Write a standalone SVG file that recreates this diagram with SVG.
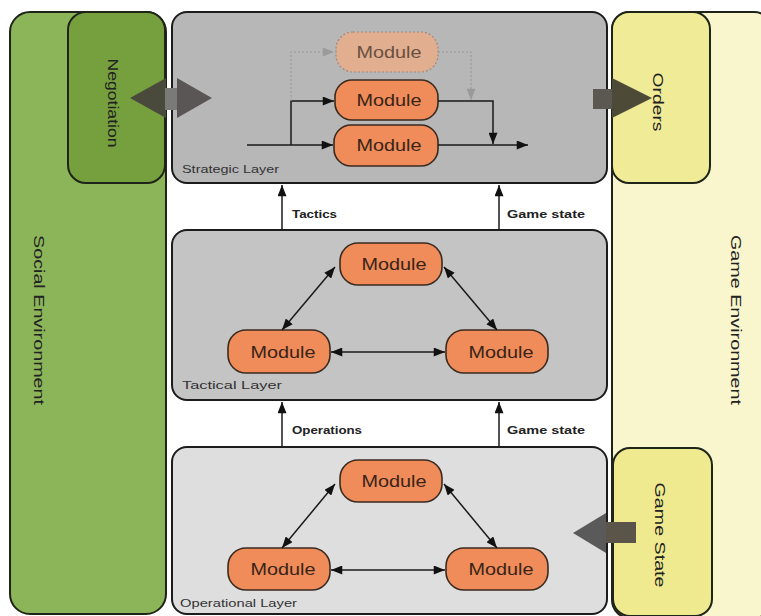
<svg xmlns="http://www.w3.org/2000/svg" width="761" height="616" viewBox="0 0 761 616">
  <style>
    .panel { stroke: #1e2418; stroke-width: 2; }
    .layer { stroke: #1c1c1c; stroke-width: 2; }
    .mod { fill: #ef8c5a; stroke: #3a2a20; stroke-width: 1.6; }
    .ghost { fill: #e2ae90; stroke: #9a8a80; stroke-width: 1.2; stroke-dasharray: 2 2; }
    .mtext { font-family: "Liberation Sans", Arial, sans-serif; font-size: 17px; fill: #3a2418; text-anchor: middle; }
    .gtext { font-family: "Liberation Sans", Arial, sans-serif; font-size: 17px; fill: #6a5040; text-anchor: middle; }
    .vtext { font-family: "Liberation Sans", Arial, sans-serif; font-size: 15px; fill: #222; text-anchor: middle; }
    .ltext { font-family: "Liberation Sans", Arial, sans-serif; font-size: 11px; fill: #333; }
    .ftext { font-family: "Liberation Sans", Arial, sans-serif; font-size: 10px; font-weight: bold; fill: #222; }
    .link { fill: none; stroke: #1a1a1a; stroke-width: 1.5; }
    .dlink { fill: none; stroke: #9a9a9a; stroke-width: 1.2; stroke-dasharray: 2 2; }
  </style>
  <defs>
    <marker id="ah" viewBox="0 0 10 8" refX="10" refY="4" markerWidth="12" markerHeight="9" markerUnits="userSpaceOnUse" orient="auto-start-reverse">
      <path d="M0,0 L10,4 L0,8 z" fill="#111"/>
    </marker>
    <marker id="ahg" viewBox="0 0 10 8" refX="10" refY="4" markerWidth="12" markerHeight="9" markerUnits="userSpaceOnUse" orient="auto">
      <path d="M0,0 L10,4 L0,8 z" fill="#9a9a9a"/>
    </marker>
  </defs>

  <rect width="761" height="616" fill="#ffffff"/>

  <!-- Social environment -->
  <g id="social">
    <rect class="panel" x="10" y="12" width="156" height="602" rx="20" fill="#8cb55a"/>
    <text class="vtext" transform="translate(34,320) rotate(90)" textLength="170" lengthAdjust="spacingAndGlyphs">Social Environment</text>
  </g>
  <g id="negotiation">
    <rect class="panel" x="68" y="12" width="97" height="171" rx="18" fill="#76a03e"/>
    <text class="vtext" transform="translate(108,103) rotate(90)" textLength="89" lengthAdjust="spacingAndGlyphs">Negotiation</text>
  </g>

  <!-- Game environment -->
  <g id="game-env">
    <rect class="panel" x="612" y="12" width="160" height="606" rx="18" fill="#f9f5cd"/>
    <text class="vtext" transform="translate(731,320) rotate(90)" textLength="170" lengthAdjust="spacingAndGlyphs">Game Environment</text>
  </g>
  <g id="orders">
    <rect class="panel" x="612" y="12" width="98" height="171" rx="17" fill="#efeb97"/>
    <text class="vtext" transform="translate(653,102) rotate(90)" textLength="59" lengthAdjust="spacingAndGlyphs">Orders</text>
  </g>
  <g id="game-state">
    <rect class="panel" x="613" y="448" width="99" height="168" rx="17" fill="#efe98f"/>
    <text class="vtext" transform="translate(655,535) rotate(90)" textLength="105" lengthAdjust="spacingAndGlyphs">Game State</text>
  </g>

  <!-- Layers -->
  <g id="strategic-layer">
    <rect class="layer" x="172" y="12" width="435" height="171" rx="15" fill="#b7b7b7"/>
    <text class="ltext" x="182" y="173" textLength="97" lengthAdjust="spacingAndGlyphs">Strategic Layer</text>
  </g>
  <g id="tactical-layer">
    <rect class="layer" x="172" y="230" width="435" height="170" rx="15" fill="#c4c4c4"/>
    <text class="ltext" x="182" y="389" textLength="100" lengthAdjust="spacingAndGlyphs">Tactical Layer</text>
  </g>
  <g id="operational-layer">
    <rect class="layer" x="172" y="447" width="435" height="167" rx="15" fill="#dedede"/>
    <text class="ltext" x="180" y="607" textLength="117" lengthAdjust="spacingAndGlyphs">Operational Layer</text>
  </g>

  <!-- Strategic modules -->
  <g id="s-ghost">
    <rect class="ghost" x="336" y="32" width="102" height="40" rx="17"/>
    <text class="gtext" x="389" y="58" textLength="65" lengthAdjust="spacingAndGlyphs">Module</text>
  </g>
  <g id="s-mod1">
    <rect class="mod" x="335" y="80" width="103" height="40" rx="17"/>
    <text class="mtext" x="389" y="106" textLength="65" lengthAdjust="spacingAndGlyphs">Module</text>
  </g>
  <g id="s-mod2">
    <rect class="mod" x="334" y="125" width="104" height="41" rx="17"/>
    <text class="mtext" x="389" y="151" textLength="65" lengthAdjust="spacingAndGlyphs">Module</text>
  </g>

  <!-- Tactical modules -->
  <g id="t-top">
    <rect class="mod" x="340" y="243" width="102" height="42" rx="18"/>
    <text class="mtext" x="394" y="270" textLength="65" lengthAdjust="spacingAndGlyphs">Module</text>
  </g>
  <g id="t-left">
    <rect class="mod" x="228" y="330" width="102" height="43" rx="18"/>
    <text class="mtext" x="283" y="358" textLength="65" lengthAdjust="spacingAndGlyphs">Module</text>
  </g>
  <g id="t-right">
    <rect class="mod" x="446" y="330" width="102" height="43" rx="18"/>
    <text class="mtext" x="501" y="358" textLength="65" lengthAdjust="spacingAndGlyphs">Module</text>
  </g>

  <!-- Operational modules -->
  <g id="o-top">
    <rect class="mod" x="340" y="460" width="102" height="42" rx="18"/>
    <text class="mtext" x="394" y="487" textLength="65" lengthAdjust="spacingAndGlyphs">Module</text>
  </g>
  <g id="o-left">
    <rect class="mod" x="228" y="548" width="102" height="42" rx="18"/>
    <text class="mtext" x="283" y="575" textLength="65" lengthAdjust="spacingAndGlyphs">Module</text>
  </g>
  <g id="o-right">
    <rect class="mod" x="446" y="548" width="102" height="42" rx="18"/>
    <text class="mtext" x="501" y="575" textLength="65" lengthAdjust="spacingAndGlyphs">Module</text>
  </g>

  <!-- Connectors -->
  <g id="connectors">
    <!-- strategic flow -->
    <path class="link" d="M247,145 L333,145" marker-end="url(#ah)"/>
    <path class="link" d="M291,145 L291,101 L334,101" marker-end="url(#ah)"/>
    <path class="dlink" d="M291,101 L291,52 L334,52" marker-end="url(#ahg)"/>
    <path class="dlink" d="M438,52 L471,52 L471,100" marker-end="url(#ahg)"/>
    <path class="link" d="M438,101 L493,101 L493,144" marker-end="url(#ah)"/>
    <path class="link" d="M438,145 L528,145" marker-end="url(#ah)"/>

    <!-- between layers -->
    <path class="link" d="M282,230 L282,185" marker-end="url(#ah)"/>
    <path class="link" d="M499,230 L499,185" marker-end="url(#ah)"/>
    <path class="link" d="M282,447 L282,402" marker-end="url(#ah)"/>
    <path class="link" d="M499,447 L499,402" marker-end="url(#ah)"/>
    <text class="ftext" x="292" y="218" textLength="45" lengthAdjust="spacingAndGlyphs">Tactics</text>
    <text class="ftext" x="507" y="218" textLength="78" lengthAdjust="spacingAndGlyphs">Game state</text>
    <text class="ftext" x="292" y="434" textLength="70" lengthAdjust="spacingAndGlyphs">Operations</text>
    <text class="ftext" x="507" y="434" textLength="78" lengthAdjust="spacingAndGlyphs">Game state</text>

    <!-- tactical triangle -->
    <path class="link" d="M282,330 L335,267" marker-start="url(#ah)" marker-end="url(#ah)"/>
    <path class="link" d="M444,267 L497,330" marker-start="url(#ah)" marker-end="url(#ah)"/>
    <path class="link" d="M331,352 L445,352" marker-start="url(#ah)" marker-end="url(#ah)"/>

    <!-- operational triangle -->
    <path class="link" d="M282,548 L335,484" marker-start="url(#ah)" marker-end="url(#ah)"/>
    <path class="link" d="M444,484 L497,548" marker-start="url(#ah)" marker-end="url(#ah)"/>
    <path class="link" d="M331,570 L445,570" marker-start="url(#ah)" marker-end="url(#ah)"/>

    <!-- exchange with the environments -->
    <g id="negotiation-exchange">
      <path d="M130,98 L166,78 L166,118 z" fill="#4a4a3c"/>
      <rect x="165" y="88" width="14" height="22" fill="#7a7a76"/>
      <path d="M177,78 L212,98 L177,118 z" fill="#5b5656"/>
    </g>
    <g id="orders-out">
      <rect x="593" y="89" width="21" height="20" fill="#5a5850"/>
      <path d="M612,78 L652,98 L612,118 z" fill="#4e4a38"/>
    </g>
    <g id="state-in">
      <rect x="604" y="522" width="32" height="21" fill="#5a5548"/>
      <path d="M573,533 L606,513 L606,553 z" fill="#5a5a5a"/>
    </g>
  </g>
</svg>
